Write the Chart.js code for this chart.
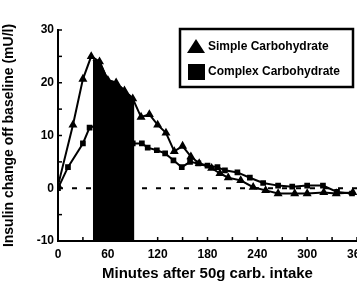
<!DOCTYPE html>
<html><head><meta charset="utf-8">
<script src="https://cdn.jsdelivr.net/npm/chart.js@4.4.1/dist/chart.umd.min.js"></script>
<style>
html,body{margin:0;padding:0;background:#fff;overflow:hidden;width:357px;height:286px;}
canvas{display:block;}
</style></head>
<body>
<canvas id="c" width="380" height="286"></canvas>
<script>
// Data
const seriesLabels = ['Simple Carbohydrate', 'Complex Carbohydrate'];
const simpleTimes  = [0, 18, 30, 40, 50, 60, 70, 80, 90, 100, 110, 120, 130, 140, 150, 160, 170, 185, 195, 205, 220, 235, 250, 265, 285, 300, 320, 335, 355];
const simpleValues = [0.5, 12, 20.7, 25, 24, 20.5, 20, 18.5, 17, 13.5, 14, 12, 10.5, 7, 8, 6, 4.7, 3.8, 2.8, 2, 1.5, 0.2, -0.4, -1, -1, -1, -0.8, -1, -0.8];
const complexTimes  = [0, 12, 30, 38, 50, 70, 90, 101, 108, 119, 129, 139, 149, 159, 169, 180, 192, 201, 216, 231, 247, 265, 282, 300, 319, 336, 354];
const complexValues = [0, 4, 8.5, 11.5, 12, 10, 8.5, 8.5, 7.7, 7.2, 6.6, 5.3, 4, 5, 4.7, 4.3, 4, 3.4, 3, 2, 1, 0.5, 0.3, 0.5, 0.5, -0.7, -1];
const shadeTimes  = [42, 50, 60, 70, 80, 92];
const shadeValues = [24.3, 24, 20.5, 20, 18.5, 16.8];
const zeroTimes  = [0, 360];
const zeroValues = [0, 0];
const xTicks = [0, 60, 120, 180, 240, 300, 360];
const yTicks = [-10, 0, 10, 20, 30];
const xTitle = 'Minutes after 50g carb. intake';
const yTitle = 'Insulin change off baseline (mU/l)';

const pts = (t, v) => t.map((x, i) => ({x: x, y: v[i]}));
const FONT = "'Liberation Sans', Arial, sans-serif";

const innerTicks = {
  id: 'innerTicks',
  afterDraw(chart) {
    const {ctx, scales: {x, y}} = chart;
    ctx.save();
    ctx.strokeStyle = '#000';
    ctx.lineWidth = 1.5;
    for (let v = -10; v <= 30; v += 5) {
      const py = y.getPixelForValue(v);
      ctx.beginPath(); ctx.moveTo(x.left, py); ctx.lineTo(x.left + 4, py); ctx.stroke();
    }
    for (let v = 0; v <= 360; v += 30) {
      const px = x.getPixelForValue(v);
      ctx.beginPath(); ctx.moveTo(px, y.bottom); ctx.lineTo(px, y.bottom - 4); ctx.stroke();
    }
    ctx.restore();
  }
};

const boxLegend = {
  id: 'boxLegend',
  afterDraw(chart) {
    const {ctx} = chart;
    ctx.save();
    ctx.strokeStyle = '#000';
    ctx.lineWidth = 2.5;
    ctx.strokeRect(180, 29, 173, 58);
    ctx.fillStyle = '#000';
    ctx.beginPath();
    ctx.moveTo(196, 39); ctx.lineTo(205, 53); ctx.lineTo(187, 53); ctx.closePath(); ctx.fill();
    ctx.fillRect(188, 64, 17, 16);
    ctx.font = 'bold 12px ' + FONT;
    ctx.textBaseline = 'middle';
    ctx.fillText(seriesLabels[0], 208, 47);
    ctx.fillText(seriesLabels[1], 208, 72);
    ctx.restore();
  }
};

new Chart(document.getElementById('c'), {
  type: 'line',
  data: {
    datasets: [
      {
        label: 'shade', data: pts(shadeTimes, shadeValues),
        borderColor: '#000', backgroundColor: '#000', borderWidth: 2,
        pointRadius: 0, fill: 'start', tension: 0, order: 0
      },
      {
        label: seriesLabels[0], data: pts(simpleTimes, simpleValues),
        borderColor: '#000', backgroundColor: '#000', borderWidth: 2,
        pointStyle: 'triangle', pointRadius: 3.2, pointBackgroundColor: '#000', pointBorderColor: '#000',
        fill: false, tension: 0, order: 1
      },
      {
        label: seriesLabels[1], data: pts(complexTimes, complexValues),
        borderColor: '#000', backgroundColor: '#000', borderWidth: 2,
        pointStyle: 'rect', pointRadius: 2.6, pointBackgroundColor: '#000', pointBorderColor: '#000',
        fill: false, tension: 0, order: 2
      },
      {
        label: 'zero', data: pts(zeroTimes, zeroValues),
        borderColor: '#000', borderWidth: 2, borderDash: [5, 9],
        pointRadius: 0, fill: false, order: 3
      }
    ]
  },
  options: {
    responsive: false,
    animation: false,
    devicePixelRatio: 1,
    layout: {padding: {left: 0, top: 30, right: 23, bottom: 0}},
    plugins: {legend: {display: false}, tooltip: {enabled: false}},
    scales: {
      x: {
        type: 'linear', min: 0, max: 360,
        afterBuildTicks: (s) => { s.ticks = xTicks.map(v => ({value: v})); },
        afterFit: (s) => { s.height = 45; },
        grid: {display: false, drawTicks: false},
        border: {display: true, color: '#000', width: 2},
        ticks: {color: '#000', font: {family: FONT, size: 12, weight: 'bold'}, padding: 6, maxRotation: 0, autoSkip: false},
        title: {display: true, text: xTitle, color: '#000', font: {family: FONT, size: 15, weight: 'bold'}, padding: {top: 1, bottom: 3}}
      },
      y: {
        type: 'linear', min: -10, max: 30,
        afterBuildTicks: (s) => { s.ticks = yTicks.map(v => ({value: v})); },
        afterFit: (s) => { s.width = 58; },
        grid: {display: false, drawTicks: false},
        border: {display: true, color: '#000', width: 2},
        ticks: {color: '#000', font: {family: FONT, size: 12, weight: 'bold'}, padding: 4},
        title: {display: true, text: yTitle, color: '#000', font: {family: FONT, size: 14, weight: 'bold'}, padding: {top: 1, bottom: 1}}
      }
    }
  },
  plugins: [innerTicks, boxLegend]
});
</script>
</body></html>
